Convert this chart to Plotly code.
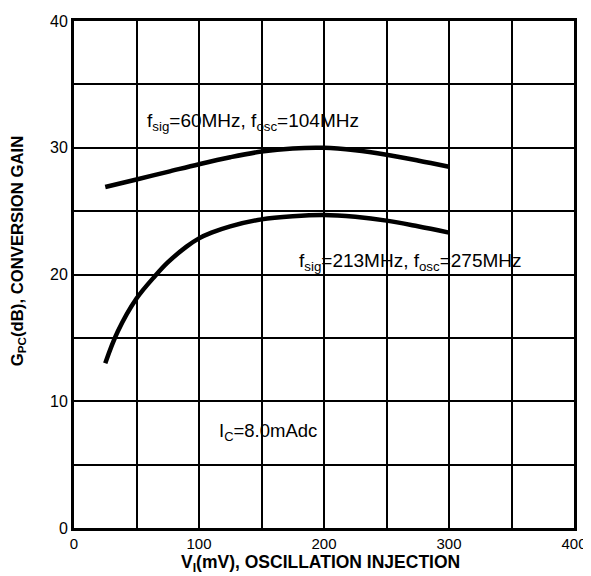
import plotly.graph_objects as go

# Data
vi_upper = [25, 50, 75, 100, 125, 150, 175, 200, 225, 250, 275, 300]
gain_upper = [26.9, 27.5, 28.1, 28.7, 29.25, 29.7, 29.95, 30.0, 29.8, 29.45, 29.0, 28.5]

vi_lower = [25, 35, 50, 65, 75, 90, 100, 110, 125, 150, 175, 200, 225, 250, 275, 300]
gain_lower = [13.0, 15.5, 18.1, 19.9, 20.95, 22.2, 22.85, 23.3, 23.8, 24.35, 24.6, 24.7, 24.55, 24.25, 23.8, 23.3]

x_ticks = [0, 100, 200, 300, 400]
y_ticks = [0, 10, 20, 30, 40]

labels = [
    dict(text="f<sub>sig</sub>=60MHz, f<sub>osc</sub>=104MHz", x=57, y=32.0, size=19),
    dict(text="f<sub>sig</sub>=213MHz, f<sub>osc</sub>=275MHz", x=178, y=21.0, size=19),
    dict(text="I<sub>C</sub>=8.0mAdc", x=114, y=7.6, size=18.5),
]

x_title = "<b>V<sub>I</sub>(mV), OSCILLATION INJECTION</b>"
y_title = "<b>G<sub>PC</sub>(dB), CONVERSION GAIN</b>"

font_family = "Liberation Sans, Arial, sans-serif"

fig = go.Figure()
fig.add_trace(go.Scatter(x=vi_upper, y=gain_upper, mode="lines",
                         line=dict(color="black", width=4.5, shape="spline", smoothing=1.0),
                         showlegend=False, hoverinfo="skip"))
fig.add_trace(go.Scatter(x=vi_lower, y=gain_lower, mode="lines",
                         line=dict(color="black", width=4.5, shape="spline", smoothing=1.0),
                         showlegend=False, hoverinfo="skip"))

for lab in labels:
    fig.add_annotation(text=lab["text"], x=lab["x"], y=lab["y"], xref="x", yref="y",
                       xanchor="left", yanchor="middle", showarrow=False,
                       font=dict(family=font_family, size=lab["size"], color="black"))

# axis titles placed as annotations to match the reference's offsets
fig.add_annotation(text=x_title, x=0.492, y=-0.071, xref="paper", yref="paper",
                   xanchor="center", yanchor="middle", showarrow=False,
                   font=dict(family=font_family, size=17.5, color="black"))
fig.add_annotation(text=y_title, x=-0.112, y=0.546, xref="paper", yref="paper",
                   xanchor="center", yanchor="middle", showarrow=False, textangle=-90,
                   font=dict(family=font_family, size=16.7, color="black"))

# page body has an 8px margin, so the figure is sized to the remaining area
fig.update_layout(
    width=583, height=568,
    margin=dict(l=66, r=17, t=13, b=48, autoexpand=False),
    paper_bgcolor="white", plot_bgcolor="white",
    font=dict(family=font_family, color="black"),
    xaxis=dict(range=[0, 400], tickvals=x_ticks, ticktext=[str(v) for v in x_ticks],
               showgrid=True, gridcolor="black", gridwidth=1.8,
               minor=dict(dtick=50, showgrid=True, gridcolor="black", gridwidth=1.8),
               showline=True, linecolor="black", linewidth=3, mirror=True,
               ticks="", zeroline=False, tickfont=dict(size=15), automargin=False),
    yaxis=dict(range=[0, 40], tickvals=y_ticks, ticktext=[str(v) for v in y_ticks],
               showgrid=True, gridcolor="black", gridwidth=1.8,
               minor=dict(dtick=5, showgrid=True, gridcolor="black", gridwidth=1.8),
               showline=True, linecolor="black", linewidth=3, mirror=True,
               ticks="", zeroline=False, tickfont=dict(size=16), automargin=False),
)

fig.write_html("out.html")
